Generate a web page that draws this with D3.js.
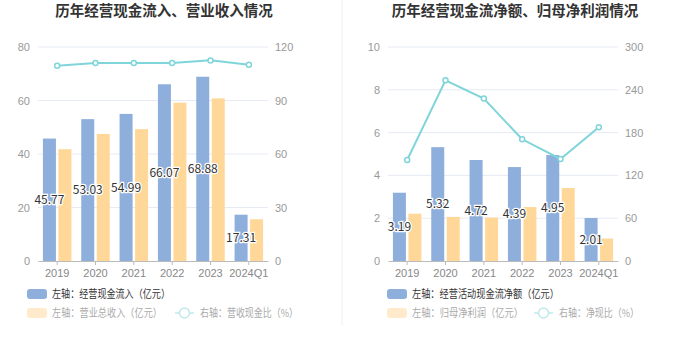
<!DOCTYPE html>
<html>
<head>
<meta charset="utf-8">
<script src="https://cdn.jsdelivr.net/npm/d3@7"></script>
<style>
  body { margin: 0; background: #fff; }
  svg { display: block; font-family: "Noto Sans CJK SC", "Noto Sans", sans-serif; }
</style>
</head>
<body>
<svg id="chart" width="680" height="349"></svg>
<script>
const years = ['2019', '2020', '2021', '2022', '2023', '2024Q1'];

// left panel
const cashInflow = [45.77, 53.03, 54.99, 66.07, 68.88, 17.31];
const revenue = [41.8, 47.5, 49.3, 59.2, 60.8, 15.6];
const cashRevenueRatio = [109.5, 111, 111, 111, 112.5, 110];
const leftTicks = [0, 20, 40, 60, 80];
const rightTicks = [0, 30, 60, 90, 120];

// right panel
const netCashFlow = [3.19, 5.32, 4.72, 4.39, 4.95, 2.01];
const netProfit = [2.21, 2.06, 2.03, 2.52, 3.41, 1.05];
const netCashRatio = [141.6, 253.3, 227.7, 170.6, 143, 187.4];
const leftTicks2 = [0, 2, 4, 6, 8, 10];
const rightTicks2 = [0, 60, 120, 180, 240, 300];

const BLUE = '#8eaedb', ORANGE = '#ffd899', TEAL = '#7fd5d9';

const svg = d3.select('#chart');

// divider between the two panels
svg.append('line')
    .attr('x1', 342).attr('x2', 342).attr('y1', 0).attr('y2', 325)
    .attr('stroke', '#eeeeee');

const legendText = (g, x, y, txt, w, color) => {
    g.append('text').attr('x', x).attr('y', y).attr('dy', '0.35em')
        .attr('font-size', 11).attr('fill', color)
        .attr('textLength', w).attr('lengthAdjust', 'spacingAndGlyphs')
        .text(txt);
};

const drawPanel = (cfg) => {
    const g = svg.append('g');
    const top = 47, bottom = 261;

    g.append('text')
        .attr('x', cfg.titleX).attr('y', 16)
        .attr('text-anchor', 'middle')
        .attr('font-size', 14.5).attr('font-weight', 'bold')
        .attr('fill', '#333')
        .text(cfg.title);

    const x = d3.scaleBand().domain(years).range([cfg.x0, cfg.x1]);
    const yL = d3.scaleLinear().domain([0, d3.max(cfg.leftTicks)]).range([bottom, top]);
    const yR = d3.scaleLinear().domain([0, d3.max(cfg.rightTicks)]).range([bottom, top]);

    // grid
    g.selectAll('.grid').data(cfg.leftTicks.filter(t => t > 0)).enter()
        .append('line')
        .attr('x1', cfg.x0).attr('x2', cfg.x1)
        .attr('y1', d => yL(d)).attr('y2', d => yL(d))
        .attr('stroke', '#e6ebf4');

    const yAxisL = d3.axisLeft(yL).tickValues(cfg.leftTicks).tickSize(0).tickPadding(8);
    const gl = g.append('g').attr('transform', `translate(${cfg.x0},0)`).call(yAxisL);
    gl.select('.domain').remove();
    gl.selectAll('text').attr('fill', '#999').attr('font-size', 11);

    const yAxisR = d3.axisRight(yR).tickValues(cfg.rightTicks).tickSize(0).tickPadding(7);
    const gr = g.append('g').attr('transform', `translate(${cfg.x1},0)`).call(yAxisR);
    gr.select('.domain').remove();
    gr.selectAll('text').attr('fill', '#999').attr('font-size', 11);

    const cx = d => x(d) + x.bandwidth() / 2;
    const bw = 13, gap = 2.5;

    g.selectAll('.barA').data(cfg.barA).enter()
        .append('rect')
        .attr('x', (d, i) => cx(years[i]) - bw - gap / 2)
        .attr('y', d => yL(d))
        .attr('width', bw)
        .attr('height', d => bottom - yL(d))
        .attr('fill', BLUE);

    g.selectAll('.barB').data(cfg.barB).enter()
        .append('rect')
        .attr('x', (d, i) => cx(years[i]) + gap / 2)
        .attr('y', d => yL(d))
        .attr('width', bw)
        .attr('height', d => bottom - yL(d))
        .attr('fill', ORANGE);

    // x axis
    const xAxis = d3.axisBottom(x).tickSize(4).tickPadding(4).tickSizeOuter(0);
    const gx = g.append('g').attr('transform', `translate(0,${bottom})`).call(xAxis);
    gx.select('.domain').attr('stroke', '#bbb');
    gx.selectAll('.tick line').attr('stroke', '#bbb');
    gx.selectAll('text').attr('fill', '#888').attr('font-size', 11);

    // ratio line
    const line = d3.line().x((d, i) => cx(years[i])).y(d => yR(d));
    g.append('path').datum(cfg.ratio)
        .attr('d', line)
        .attr('fill', 'none')
        .attr('stroke', TEAL)
        .attr('stroke-width', 2);
    g.selectAll('.pt').data(cfg.ratio).enter()
        .append('circle')
        .attr('cx', (d, i) => cx(years[i]))
        .attr('cy', d => yR(d))
        .attr('r', 2.5)
        .attr('fill', '#fff')
        .attr('stroke', TEAL)
        .attr('stroke-width', 1.5);

    // value labels in the middle of the blue bars
    g.selectAll('.lbl').data(cfg.barA).enter()
        .append('text')
        .attr('x', (d, i) => cx(years[i]) - bw / 2 - gap / 2)
        .attr('y', d => (yL(d) + bottom) / 2)
        .attr('dy', '0.35em')
        .attr('text-anchor', 'middle')
        .attr('font-size', 12)
        .attr('fill', '#333')
        .attr('stroke', '#fff')
        .attr('stroke-width', 2.5)
        .attr('paint-order', 'stroke')
        .text(d => d.toFixed(2));

    // legend
    const lx = cfg.legendX;
    g.append('rect').attr('x', lx).attr('y', 289).attr('width', 20).attr('height', 10)
        .attr('rx', 3).attr('fill', BLUE);
    legendText(g, lx + 25, 294, cfg.legendA[0], cfg.legendA[1], '#333');

    g.append('rect').attr('x', lx).attr('y', 308).attr('width', 20).attr('height', 10)
        .attr('rx', 3).attr('fill', '#ffebcc');
    legendText(g, lx + 25, 313, cfg.legendB[0], cfg.legendB[1], '#aaa');

    const ix = cfg.lineLegendX;
    g.append('line').attr('x1', ix).attr('x2', ix + 19).attr('y1', 313).attr('y2', 313)
        .attr('stroke', '#bfe9eb').attr('stroke-width', 1.5);
    g.append('circle').attr('cx', ix + 9.5).attr('cy', 313).attr('r', 5)
        .attr('fill', '#fff').attr('stroke', '#bfe9eb').attr('stroke-width', 1.5);
    legendText(g, ix + 25, 313, cfg.legendC[0], cfg.legendC[1], '#aaa');
};

drawPanel({
    title: '历年经营现金流入、营业收入情况',
    titleX: 164,
    x0: 38, x1: 268,
    leftTicks, rightTicks,
    barA: cashInflow, barB: revenue, ratio: cashRevenueRatio,
    legendX: 27, lineLegendX: 175,
    legendA: ['左轴：经营现金流入（亿元）', 118],
    legendB: ['左轴：营业总收入（亿元）', 110],
    legendC: ['右轴：营收现金比（%）', 98]
});

drawPanel({
    title: '历年经营现金流净额、归母净利润情况',
    titleX: 515,
    x0: 388, x1: 618,
    leftTicks: leftTicks2, rightTicks: rightTicks2,
    barA: netCashFlow, barB: netProfit, ratio: netCashRatio,
    legendX: 387, lineLegendX: 534,
    legendA: ['左轴：经营活动现金流净额（亿元）', 147],
    legendB: ['左轴：归母净利润（亿元）', 111],
    legendC: ['右轴：净现比（%）', 80]
});
</script>
</body>
</html>
